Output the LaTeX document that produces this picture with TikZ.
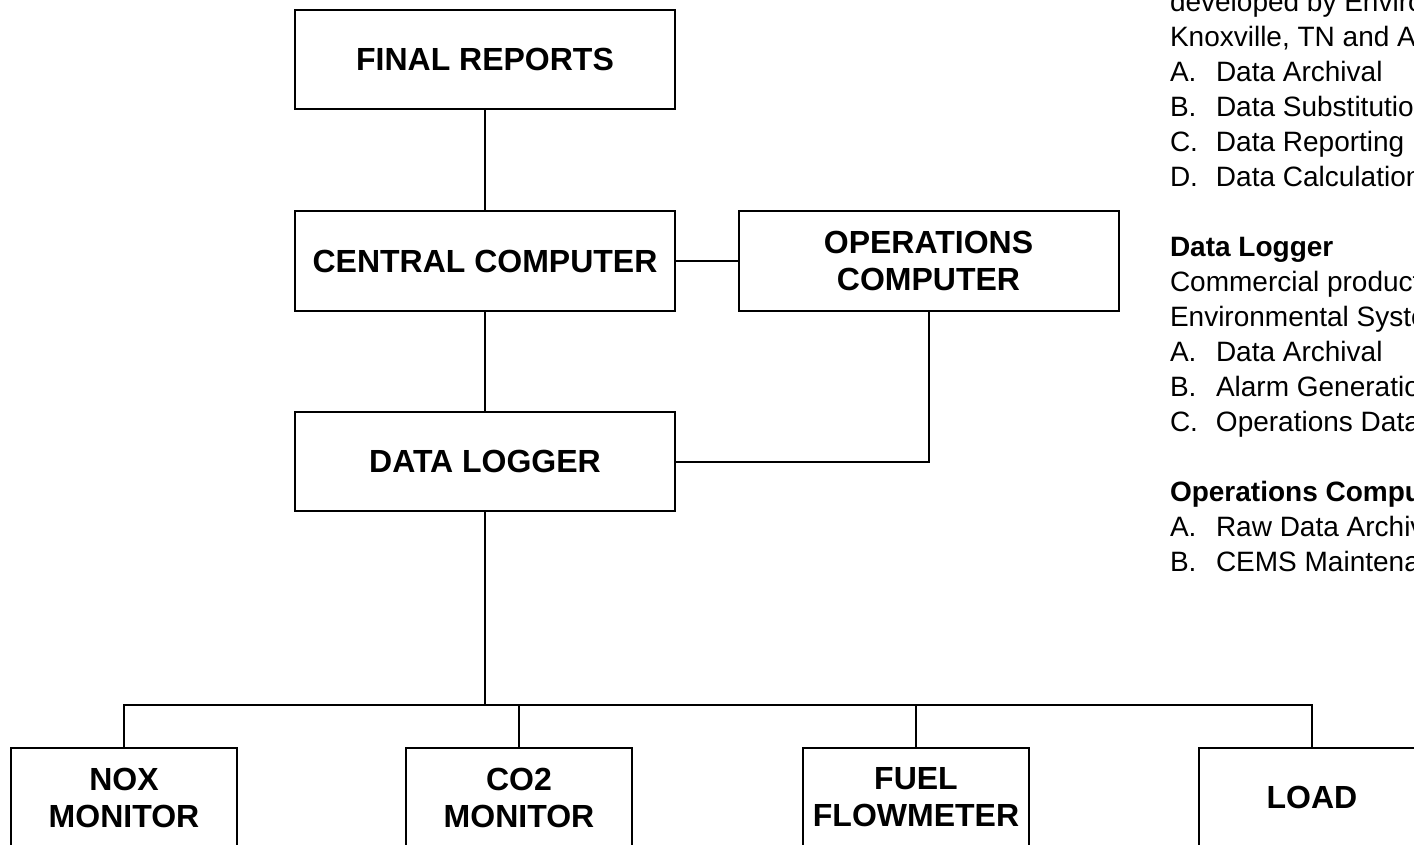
\documentclass[tikz,border=0pt]{standalone}
\usepackage{fontspec}
\setmainfont{Liberation Sans}

%% ligne de liste : repere puis texte
\newcommand{\puce}[2]{\makebox[46pt][l]{#1}#2}

\begin{document}
\begin{tikzpicture}[x=1pt,y=-1pt,line width=2pt,
  boite/.style={draw,minimum width=380pt,minimum height=99pt,inner sep=0pt,
    align=center,font=\fontsize{32}{37}\selectfont\bfseries},
  capteur/.style={boite,minimum width=226pt}]

%% cadre de la figure
\useasboundingbox (0,0) rectangle (1414,845);
\clip (0,0) rectangle (1414,845);

%% ordinateurs
\node[boite] (final) at (485,59.5) {FINAL REPORTS};
\node[boite] (central) at (485,261) {CENTRAL COMPUTER};
\node[boite] (operations) at (928.5,261) {OPERATIONS\\COMPUTER};
\node[boite] (logger) at (485,461.5) {DATA LOGGER};

%% capteurs
\node[capteur] (nox) at (124,797.5) {NOX\\MONITOR};
\node[capteur] (co2) at (519,797.5) {CO2\\MONITOR};
\node[capteur] (fuel) at (916,797.5) {FUEL\\FLOWMETER};
\node[capteur] (load) at (1312,797.5) {LOAD};

%% liaisons
\draw (final) -- (central);
\draw (central) -- (operations);
\draw (central) -- (logger);
\draw (operations.south) |- (logger.east);

%% bus des capteurs
\coordinate (bus) at (485,705);
\draw (logger) -- (bus);
\foreach \n in {nox,co2,fuel,load}
  \draw (bus) -| (\n.north);

%% notes
\node[anchor=base west,inner sep=0pt,font=\fontsize{28}{35}\selectfont] (notes) at (1169,12) {%
  \begin{tabular}[t]{@{}l@{}}
  developed by Environmental\\
  Knoxville, TN and A\\
  \puce{A.}{Data Archival}\\
  \puce{B.}{Data Substitution}\\
  \puce{C.}{Data Reporting}\\
  \puce{D.}{Data Calculation}\\
  \\
  \textbf{Data Logger}\\
  Commercial product\\
  Environmental Systems\\
  \puce{A.}{Data Archival}\\
  \puce{B.}{Alarm Generation}\\
  \puce{C.}{Operations Data}\\
  \\
  \textbf{Operations Computer}\\
  \puce{A.}{Raw Data Archival}\\
  \puce{B.}{CEMS Maintenance}
  \end{tabular}};

\end{tikzpicture}
\end{document}
